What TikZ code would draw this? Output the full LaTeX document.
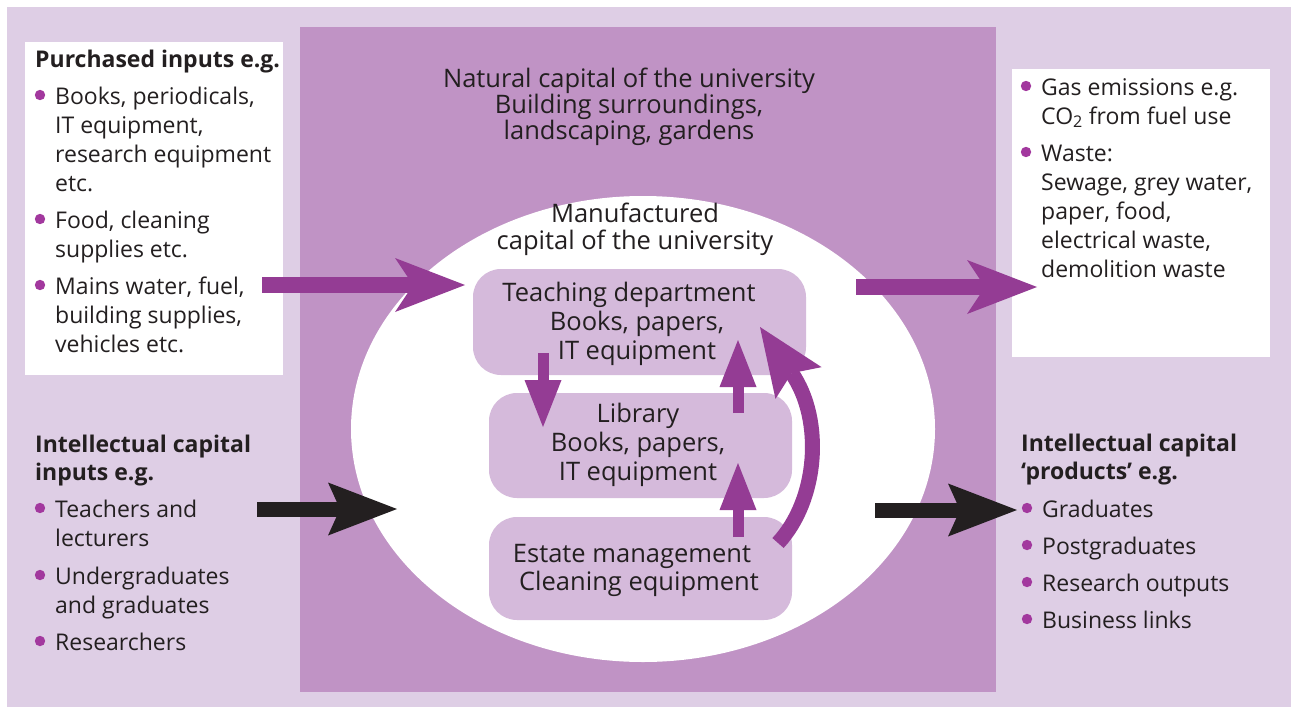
\documentclass[tikz,border=0pt]{standalone}
\usepackage{fontspec}
\setmainfont{Open Sans}
\usetikzlibrary{arrows.meta}
\definecolor{bgl}{HTML}{DECEE5}
\definecolor{bgm}{HTML}{C093C5}
\definecolor{boxc}{HTML}{D5BADB}
\definecolor{arp}{HTML}{943C94}
\definecolor{bul}{HTML}{A2389E}
\definecolor{txtc}{HTML}{231F20}
\begin{document}
\begin{tikzpicture}[x=1pt,y=-1pt,
  txt/.style={font=\fontsize{23}{29.2}\selectfont, text=txtc, inner sep=0pt, align=left, anchor=base west},
  ctxt/.style={txt, align=center, anchor=base},
  hd/.style={txt, font=\fontsize{23}{28.5}\selectfont\bfseries},
  unitbox/.style={fill=boxc, rounded corners=28pt, inner sep=0pt},
  bigpurple/.style={draw=arp, line width=16pt, -{Stealth[length=70pt,width=54pt,inset=18pt,line width=0pt]}},
  bigblack/.style={draw=txtc, line width=15pt, -{Stealth[length=69pt,width=53pt,inset=12pt,line width=0pt]}},
  smallarrow/.style={draw=arp, line width=11pt, -{Triangle[length=47pt,width=37pt,line width=0pt]}},
  curvearrow/.style={draw=arp, line width=15pt, -{Stealth[length=68pt,width=56pt,inset=12pt,line width=0pt]}},
  dot/.style={fill=bul}
]
\useasboundingbox (0,0) rectangle (1291,707);
\fill[bgl] (7,7) rectangle (1291,707);
\fill[bgm] (300,27) rectangle (996,692);
\fill[white] (25,42) rectangle (283,375);
\fill[white] (1012,69) rectangle (1270,357);
\fill[white] (643,429) ellipse [x radius=292, y radius=233];

% units
\node[unitbox, minimum width=333pt, minimum height=106pt] (teach) at (639.5,322) {};
\node[unitbox, minimum width=303pt, minimum height=105pt] (lib) at (640.5,445.5) {};
\node[unitbox, minimum width=303pt, minimum height=103pt] (estate) at (640.5,568.5) {};

% centre texts (anchored at the baseline of their last line)
\node[ctxt, font=\fontsize{25.5}{26}\selectfont] (natural) at (629,139) {Natural capital of the university\\Building surroundings,\\landscaping, gardens};
\node[ctxt, font=\fontsize{25.5}{27}\selectfont] (manuf) at (635,249) {Manufactured\\capital of the university};
\node[ctxt, font=\fontsize{25.5}{28.6}\selectfont] (teachtxt) at (637,359) {Teaching department\hbox to 16pt{}\\Books, papers,\\IT equipment};
\node[ctxt, font=\fontsize{25.5}{29}\selectfont] (libtxt) at (638,480) {Library\\Books, papers,\\IT equipment};
\node[ctxt, font=\fontsize{25.5}{28}\selectfont] (esttxt) at (639,590) {Estate management\hbox to 14pt{}\\Cleaning equipment};

% left top box
\node[hd] (pih) at (35,67) {Purchased inputs e.g.};
\node[txt] (pi1) at (55,191.6) {Books, periodicals,\\IT equipment,\\research equipment\\etc.};
\node[txt] (pi2) at (55,257.2) {Food, cleaning\\supplies etc.};
\node[txt] (pi3) at (55,352.4) {Mains water, fuel,\\building supplies,\\vehicles etc.};
\fill[dot] (40,95) circle (5.2);
\fill[dot] (40,219) circle (5.2);
\fill[dot] (40,285) circle (5.2);

% right top box
\node[txt] (gas) at (1041,124.2) {Gas emissions e.g.\\CO\textsubscript{2} from fuel use};
\node[txt] (waste) at (1041,277.8) {Waste:\\Sewage, grey water,\\paper, food,\\electrical waste,\\demolition waste};
\fill[dot] (1026,86) circle (5.2);
\fill[dot] (1026,152) circle (5.2);

% left bottom
\node[hd] (ici) at (35,480.5) {Intellectual capital\\inputs e.g.};
\node[txt] (ic1) at (55,546.2) {Teachers and\\lecturers};
\node[txt] (ic2) at (55,613.2) {Undergraduates\\and graduates};
\node[txt] (ic3) at (55,650) {Researchers};
\fill[dot] (40,508) circle (5.2);
\fill[dot] (40,575) circle (5.2);
\fill[dot] (40,641) circle (5.2);

% right bottom
\node[hd] (icp) at (1021,479.5) {Intellectual capital\\‘products’ e.g.};
\node[txt] (op1) at (1042,517) {Graduates};
\node[txt] (op2) at (1042,554) {Postgraduates};
\node[txt] (op3) at (1042,591) {Research outputs};
\node[txt] (op4) at (1042,628) {Business links};
\fill[dot] (1027,508) circle (5.2);
\fill[dot] (1027,545) circle (5.2);
\fill[dot] (1027,582) circle (5.2);
\fill[dot] (1027,619) circle (5.2);

% connector end points
\coordinate (pinS) at (262,285);  \coordinate (pinE) at (465,285);
\coordinate (poutS) at (856,287); \coordinate (poutE) at (1037,287);
\coordinate (binS) at (257,509);  \coordinate (binE) at (397,509);
\coordinate (boutS) at (875,510); \coordinate (boutE) at (1017,510);
\coordinate (downS) at (543,353); \coordinate (downE) at (543,427);
\coordinate (up1S) at (738,413);  \coordinate (up1E) at (738,340);
\coordinate (up2S) at (738,537);  \coordinate (up2E) at (738,463);
\coordinate (crvS) at (778,543);  \coordinate (crvE) at (760,327);

\draw[bigpurple] (pinS) -- (pinE);
\draw[bigpurple] (poutS) -- (poutE);
\draw[bigblack] (binS) -- (binE);
\draw[bigblack] (boutS) -- (boutE);
\draw[smallarrow] (downS) -- (downE);
\draw[smallarrow] (up1S) -- (up1E);
\draw[smallarrow] (up2S) -- (up2E);
\draw[curvearrow] (crvS) .. controls (818,500) and (824,420) .. (crvE);
\end{tikzpicture}
\end{document}
